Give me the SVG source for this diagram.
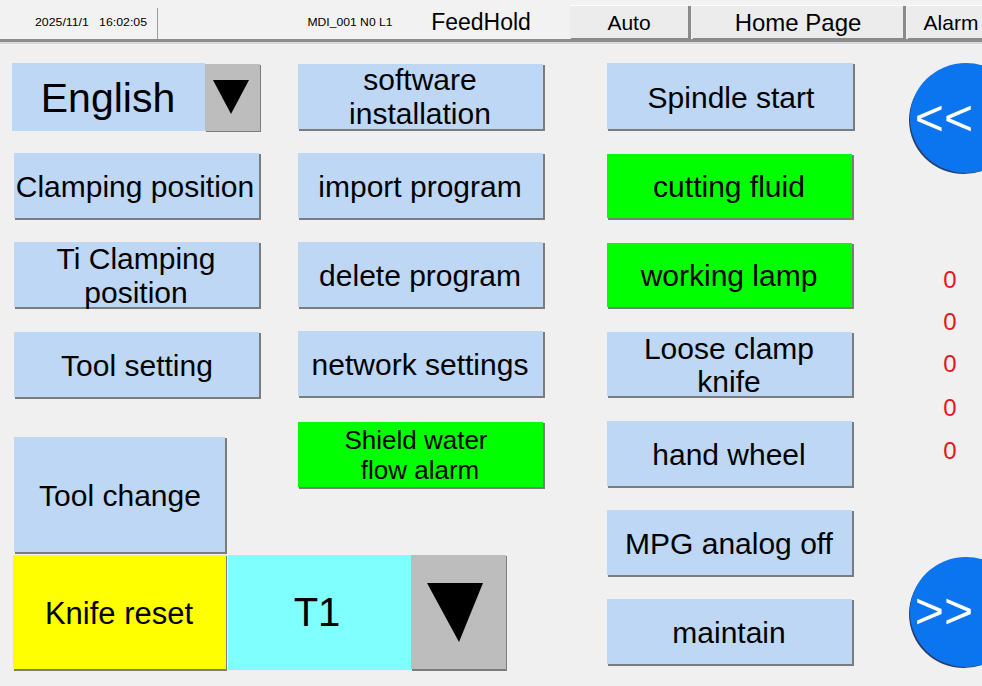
<svg xmlns="http://www.w3.org/2000/svg" width="982" height="686" viewBox="0 0 982 686">
<style>
text{font-family:"Liberation Sans",Arial,sans-serif;fill:#000;text-anchor:middle}
.sh{fill:#7c7c7c}
.b{fill:#bdd7f5}
.g{fill:#00ff00}
.t{font-size:30px}
.s{font-size:26px}
.h{font-size:21px}
.tb{fill:#ececec}
.tbsh{fill:#8a8a8a}
.z{fill:#e8141c;font-size:24px}
.ar{fill:#fff;font-size:50px}
</style>
<rect width="982" height="686" fill="#f0f0f0"/>
<g id="header">
<rect x="0" y="0" width="982" height="40" fill="#f2f2f2"/>
<rect x="0" y="39" width="982" height="3" fill="#8c8c8c"/>
<rect x="0" y="42" width="982" height="2" fill="#d8d8d8"/>
<line x1="157.5" y1="8" x2="157.5" y2="39" stroke="#9a9a9a" stroke-width="1"/>
<text x="91" y="26" font-size="11" xml:space="preserve" textLength="112" lengthAdjust="spacingAndGlyphs">2025/11/1   16:02:05</text>
<text x="350" y="26" font-size="11" textLength="85" lengthAdjust="spacingAndGlyphs">MDI_001 N0 L1</text>
<text x="481" y="30" font-size="23">FeedHold</text>
</g>
<g id="btn-auto">
<rect x="571" y="6" width="120" height="34" class="tbsh"/>
<rect x="570" y="5" width="118" height="33" class="tb"/>
<line x1="570" y1="5.5" x2="688" y2="5.5" stroke="#fff"/>
<text x="629" y="30" class="h">Auto</text>
</g>
<g id="btn-home">
<rect x="693" y="6" width="213" height="34" class="tbsh"/>
<rect x="692" y="5" width="211" height="33" class="tb"/>
<line x1="692" y1="5.5" x2="903" y2="5.5" stroke="#fff"/>
<text x="798" y="31" font-size="24">Home Page</text>
</g>
<g id="btn-alarm">
<rect x="908" y="6" width="80" height="34" class="tbsh"/>
<rect x="907" y="5" width="80" height="33" class="tb"/>
<line x1="907" y1="5.5" x2="982" y2="5.5" stroke="#fff"/>
<text x="951" y="30" class="h">Alarm</text>
</g>

<g id="lang">
<rect x="12" y="63" width="193" height="68" class="b"/>
<text x="108" y="112" font-size="41">English</text>
<rect x="206" y="65" width="55" height="67" class="sh"/>
<rect x="205" y="64" width="55" height="67" fill="#bdbdbd"/>
<polygon points="213,80 249,80 231,114" fill="#000"/>
</g>
<g id="clamping-position">
<rect x="15" y="154" width="246" height="66" class="sh"/>
<rect x="14" y="153" width="245" height="65" class="b"/>
<text x="135" y="197" class="t">Clamping position</text>
</g>
<g id="ti-clamping-position">
<rect x="15" y="243" width="246" height="66" class="sh"/>
<rect x="14" y="242" width="245" height="65" class="b"/>
<text x="136" y="269" class="t">Ti Clamping</text>
<text x="136" y="303" class="t">position</text>
</g>
<g id="tool-setting">
<rect x="15" y="333" width="246" height="66" class="sh"/>
<rect x="14" y="332" width="245" height="65" class="b"/>
<text x="137" y="376" class="t">Tool setting</text>
</g>
<g id="tool-change">
<rect x="15" y="438" width="212" height="116" class="sh"/>
<rect x="14" y="437" width="211" height="115" class="b"/>
<text x="120" y="506" class="t">Tool change</text>
</g>
<g id="knife-reset">
<rect x="14" y="556" width="213" height="115" class="sh"/>
<rect x="13" y="555" width="213" height="114" fill="#ffff00"/>
<text x="119" y="624" font-size="31">Knife reset</text>
</g>
<g id="tool-number">
<rect x="228" y="555" width="183" height="115" fill="#80ffff"/>
<text x="317" y="626" font-size="40">T1</text>
</g>
<g id="tool-dropdown">
<rect x="412" y="556" width="95" height="115" class="sh"/>
<rect x="411" y="555" width="95" height="114" fill="#bdbdbd"/>
<polygon points="427,583 483,583 459,642" fill="#000"/>
</g>

<g id="software-installation">
<rect x="299" y="65" width="246" height="66" class="sh"/>
<rect x="298" y="64" width="245" height="65" class="b"/>
<text x="420" y="90" class="t">software</text>
<text x="420" y="124" class="t">installation</text>
</g>
<g id="import-program">
<rect x="299" y="154" width="246" height="66" class="sh"/>
<rect x="298" y="153" width="245" height="65" class="b"/>
<text x="420" y="197" class="t">import program</text>
</g>
<g id="delete-program">
<rect x="299" y="243" width="246" height="66" class="sh"/>
<rect x="298" y="242" width="245" height="65" class="b"/>
<text x="420" y="286" class="t">delete program</text>
</g>
<g id="network-settings">
<rect x="299" y="332" width="246" height="66" class="sh"/>
<rect x="298" y="331" width="245" height="65" class="b"/>
<text x="420" y="375" class="t">network settings</text>
</g>
<g id="shield-water-flow-alarm">
<rect x="299" y="423" width="246" height="66" class="sh"/>
<rect x="298" y="422" width="245" height="65" class="g"/>
<text x="416" y="449" class="s">Shield water</text>
<text x="420" y="479" class="s">flow alarm</text>
</g>

<g id="spindle-start">
<rect x="608" y="64" width="247" height="67" class="sh"/>
<rect x="607" y="63" width="246" height="66" class="b"/>
<text x="731" y="108" class="t">Spindle start</text>
</g>
<g id="cutting-fluid">
<rect x="608" y="155" width="246" height="65" class="sh"/>
<rect x="607" y="154" width="245" height="64" class="g"/>
<text x="729" y="197" class="t">cutting fluid</text>
</g>
<g id="working-lamp">
<rect x="608" y="244" width="246" height="65" class="sh"/>
<rect x="607" y="243" width="245" height="64" class="g"/>
<text x="729" y="286" class="t">working lamp</text>
</g>
<g id="loose-clamp-knife">
<rect x="608" y="333" width="246" height="65" class="sh"/>
<rect x="607" y="332" width="245" height="64" class="b"/>
<text x="729" y="359" class="t">Loose clamp</text>
<text x="729" y="392" class="t">knife</text>
</g>
<g id="hand-wheel">
<rect x="608" y="422" width="246" height="66" class="sh"/>
<rect x="607" y="421" width="245" height="65" class="b"/>
<text x="729" y="465" class="t">hand wheel</text>
</g>
<g id="mpg-analog-off">
<rect x="608" y="511" width="246" height="66" class="sh"/>
<rect x="607" y="510" width="245" height="65" class="b"/>
<text x="729" y="554" class="t">MPG analog off</text>
</g>
<g id="maintain">
<rect x="608" y="600" width="246" height="66" class="sh"/>
<rect x="607" y="599" width="245" height="65" class="b"/>
<text x="729" y="643" class="t">maintain</text>
</g>

<g id="prev-page">
<ellipse cx="964" cy="120" rx="55" ry="54" fill="#2a3f66"/>
<ellipse cx="966" cy="118" rx="56" ry="55" fill="#0b74ef"/>
<text x="944" y="135" class="ar">&lt;&lt;</text>
</g>
<g id="next-page">
<ellipse cx="964" cy="614" rx="55" ry="54" fill="#2a3f66"/>
<ellipse cx="966" cy="612" rx="56" ry="55" fill="#0b74ef"/>
<text x="944" y="628" class="ar">&gt;&gt;</text>
</g>

<g id="counters">
<text x="950" y="288" class="z">0</text>
<text x="950" y="330" class="z">0</text>
<text x="950" y="372" class="z">0</text>
<text x="950" y="416" class="z">0</text>
<text x="950" y="459" class="z">0</text>
</g>
</svg>
